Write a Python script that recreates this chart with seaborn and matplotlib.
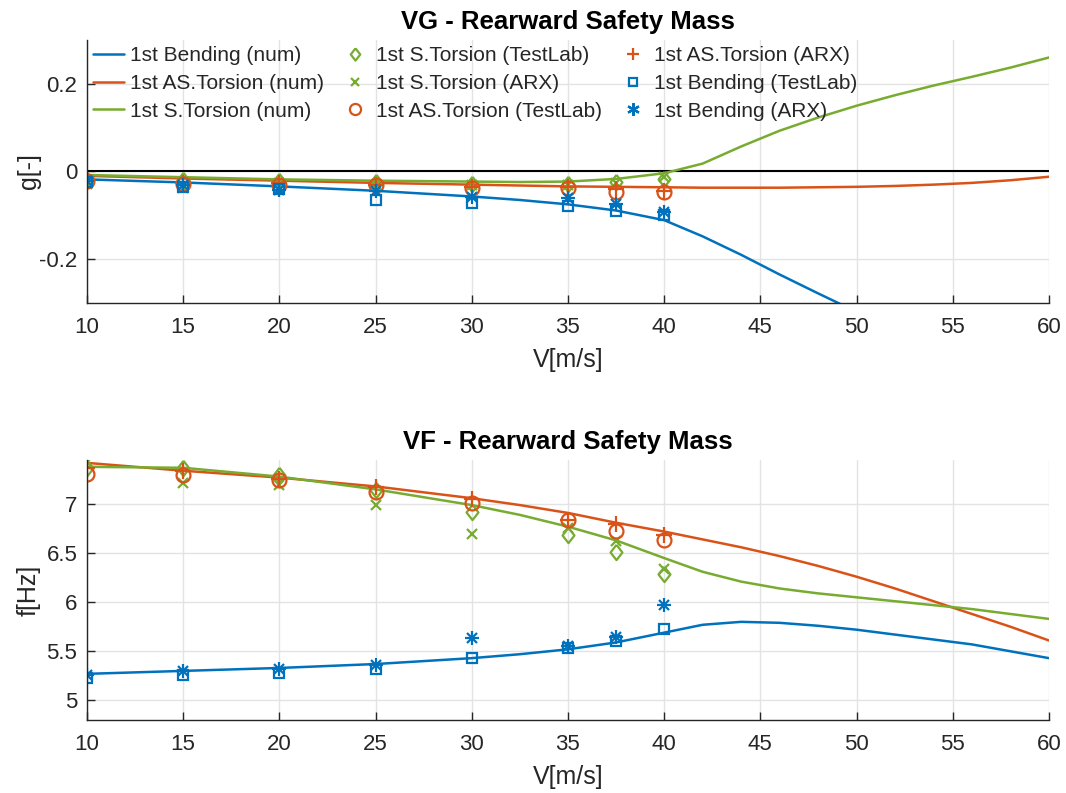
import numpy as np
import pandas as pd
import matplotlib
matplotlib.use("Agg")
import matplotlib.pyplot as plt
from matplotlib.lines import Line2D
import seaborn as sns

# ---- numerical model (speed sweep) ----
V_num = [10, 15, 20, 25, 30, 32.5, 35, 37.5, 40, 42, 44, 46, 48, 50, 52, 54, 56, 58, 60]

g_bend_num = [-0.018, -0.025, -0.034, -0.044, -0.057, -0.065, -0.075, -0.089, -0.111,
              -0.148, -0.190, -0.235, -0.278, -0.320, -0.360, -0.400, -0.440, -0.480, -0.520]
g_ast_num = [-0.010, -0.016, -0.021, -0.026, -0.030, -0.032, -0.034, -0.035, -0.036,
             -0.037, -0.037, -0.037, -0.036, -0.035, -0.033, -0.030, -0.026, -0.020, -0.012]
g_st_num = [-0.008, -0.013, -0.018, -0.021, -0.023, -0.024, -0.023, -0.017, -0.004,
            0.018, 0.057, 0.093, 0.123, 0.150, 0.174, 0.196, 0.216, 0.237, 0.260]

f_bend_num = [5.27, 5.30, 5.33, 5.37, 5.43, 5.47, 5.52, 5.59, 5.69,
              5.77, 5.80, 5.79, 5.76, 5.72, 5.67, 5.62, 5.57, 5.50, 5.43]
f_ast_num = [7.42, 7.34, 7.27, 7.18, 7.06, 6.99, 6.91, 6.81, 6.72,
             6.64, 6.56, 6.47, 6.37, 6.26, 6.14, 6.01, 5.88, 5.75, 5.61]
f_st_num = [7.38, 7.37, 7.28, 7.15, 6.99, 6.89, 6.77, 6.63, 6.45,
            6.31, 6.21, 6.14, 6.09, 6.05, 6.01, 5.97, 5.93, 5.88, 5.83]

# ---- identified from flight tests ----
V_test = [10, 15, 20, 25, 30, 35, 37.5, 40]

g_st_testlab = [-0.020, -0.020, -0.022, -0.025, -0.028, -0.028, -0.024, -0.016]
g_st_arx = [-0.028, -0.038, -0.026, -0.030, -0.030, -0.030, -0.026, -0.012]
g_ast_testlab = [-0.022, -0.028, -0.030, -0.030, -0.037, -0.038, -0.046, -0.047]
g_ast_arx = [-0.020, -0.027, -0.027, -0.030, -0.035, -0.036, -0.040, -0.045]
g_bend_testlab = [-0.025, -0.035, -0.041, -0.066, -0.071, -0.079, -0.090, -0.100]
g_bend_arx = [-0.022, -0.030, -0.043, -0.045, -0.058, -0.060, -0.075, -0.093]

f_st_testlab = [7.37, 7.37, 7.30, 7.14, 6.92, 6.68, 6.51, 6.29]
f_st_arx = [7.43, 7.22, 7.19, 6.99, 6.70, 6.76, 6.62, 6.34]
f_ast_testlab = [7.31, 7.30, 7.25, 7.12, 7.01, 6.84, 6.73, 6.63]
f_ast_arx = [7.37, 7.34, 7.26, 7.17, 7.05, 6.84, 6.80, 6.68]
f_bend_testlab = [5.23, 5.26, 5.28, 5.32, 5.43, 5.53, 5.60, 5.73]
f_bend_arx = [5.26, 5.30, 5.32, 5.36, 5.64, 5.55, 5.65, 5.97]

labels_num = ["1st Bending (num)", "1st AS.Torsion (num)", "1st S.Torsion (num)"]
labels_test = ["1st S.Torsion (TestLab)", "1st S.Torsion (ARX)", "1st AS.Torsion (TestLab)",
               "1st AS.Torsion (ARX)", "1st Bending (TestLab)", "1st Bending (ARX)"]

BLUE, ORANGE, GREEN = "#0072BD", "#D95319", "#77AC30"
DIAMOND = [(0, 1), (0.78, 0), (0, -1), (-0.78, 0), (0, 1)]

sns.set_theme(style="whitegrid")
plt.rcParams["font.family"] = ["Liberation Sans", "DejaVu Sans"]
plt.rcParams["axes.unicode_minus"] = False

fig = plt.figure(figsize=(10.66, 7.93), dpi=100)
ax1 = fig.add_axes([0.0816, 0.6179, 0.9024, 0.3317])
ax2 = fig.add_axes([0.0816, 0.0921, 0.9024, 0.3279])

# measured series styles: (marker, size, hollow, color)
test_styles = [
    (DIAMOND, 11, True, GREEN),
    ("x", 6.5, False, GREEN),
    ("o", 10, True, ORANGE),
    ("+", 11, False, ORANGE),
    ("s", 7.5, True, BLUE),
    ("*", 0, False, BLUE),
]
MEW = 1.6


def marker_kw(m, ms, hollow, c):
    kw = dict(color=c, linestyle="", marker=m, markersize=ms,
              markeredgecolor=c, markeredgewidth=MEW)
    if hollow:
        kw["markerfacecolor"] = "none"
    return kw


def draw_series(ax, num_series, test_series):
    for y, c in zip(num_series, [BLUE, ORANGE, GREEN]):
        df = pd.DataFrame({"V": V_num, "y": y})
        sns.lineplot(data=df, x="V", y="y", ax=ax, color=c, lw=1.8,
                     estimator=None, sort=False, legend=False)
    for y, (m, ms, hollow, c) in zip(test_series, test_styles):
        df = pd.DataFrame({"V": V_test, "y": y})
        if m == "*":
            # asterisk drawn as a plus and a cross on top of each other
            sns.lineplot(data=df, x="V", y="y", ax=ax, estimator=None, sort=False,
                         legend=False, **marker_kw("+", 10, False, c))
            sns.lineplot(data=df, x="V", y="y", ax=ax, estimator=None, sort=False,
                         legend=False, **marker_kw("x", 7.5, False, c))
        else:
            sns.lineplot(data=df, x="V", y="y", ax=ax, estimator=None, sort=False,
                         legend=False, **marker_kw(m, ms, hollow, c))


draw_series(ax1, [g_bend_num, g_ast_num, g_st_num],
            [g_st_testlab, g_st_arx, g_ast_testlab, g_ast_arx, g_bend_testlab, g_bend_arx])
ax1.axhline(0, color="black", lw=1.5, zorder=1.5)

draw_series(ax2, [f_bend_num, f_ast_num, f_st_num],
            [f_st_testlab, f_st_arx, f_ast_testlab, f_ast_arx, f_bend_testlab, f_bend_arx])

ax1.set_ylim(-0.3, 0.3)
ax1.set_yticks([-0.2, 0, 0.2])
ax1.set_yticklabels(["-0.2", "0", "0.2"])
ax2.set_ylim(4.8, 7.45)
ax2.set_yticks([5, 5.5, 6, 6.5, 7])
ax2.set_yticklabels(["5", "5.5", "6", "6.5", "7"])

xt = [10, 15, 20, 25, 30, 35, 40, 45, 50, 55, 60]
for ax, title, ylab in [(ax1, "VG - Rearward Safety Mass", "g[-]"),
                        (ax2, "VF - Rearward Safety Mass", "f[Hz]")]:
    ax.set_xlim(10, 60)
    ax.set_xticks(xt)
    ax.set_xticklabels([str(v) for v in xt])
    ax.set_facecolor("white")
    ax.grid(True, color="#e3e3e3", lw=1.0)
    for s in ["top", "right"]:
        ax.spines[s].set_visible(False)
    for s in ["left", "bottom"]:
        ax.spines[s].set_visible(True)
        ax.spines[s].set_color("#262626")
        ax.spines[s].set_linewidth(1.0)
    ax.tick_params(axis="both", direction="in", length=6, width=1.0,
                   colors="#262626", labelsize=16, pad=7,
                   left=True, bottom=True)
    ax.tick_params(axis="x", pad=10)
    ax.set_title(title, fontsize=18.5, fontweight="bold", color="black", pad=8)
    ax.set_xlabel("V[m/s]", fontsize=18, color="#262626", labelpad=7)
    ax.set_ylabel(ylab, fontsize=18, color="#262626")
    ax.yaxis.set_label_coords(-0.048, 0.5)

# legend handles
handles = [Line2D([], [], color=c, lw=1.8) for c in [BLUE, ORANGE, GREEN]]
for m, ms, hollow, c in test_styles:
    if m == "*":
        handles.append(Line2D([], [], **marker_kw((6, 2, 0), 9, False, c)))
    elif m == "x":
        handles.append(Line2D([], [], **marker_kw(m, 5.5, hollow, c)))
    else:
        handles.append(Line2D([], [], **marker_kw(m, ms * 0.8, hollow, c)))
ax1.legend(handles, labels_num + labels_test, ncol=3, frameon=False,
           loc="upper left", bbox_to_anchor=(0.0, 1.0), fontsize=15,
           handlelength=1.5, handletextpad=0.25, columnspacing=0.75,
           labelspacing=0.42, borderaxespad=0.2, borderpad=0.1)

fig.savefig("out.png", dpi=100)
